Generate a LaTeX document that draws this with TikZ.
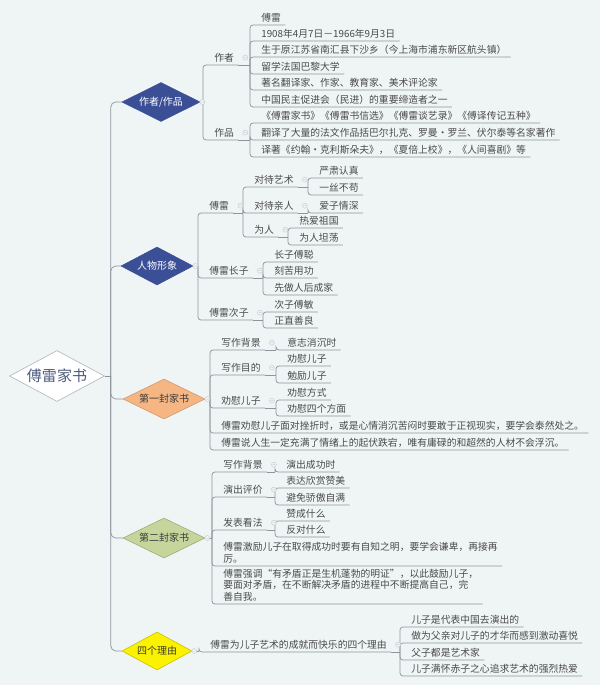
\documentclass[tikz,border=0pt]{standalone}
\usepackage{fontspec}
\setmainfont{Noto Sans CJK SC}
\usetikzlibrary{shapes.geometric}

\definecolor{sfondo}{HTML}{EFF4F5}
\definecolor{linea}{HTML}{8E949B}
\definecolor{testo}{HTML}{4A4A4A}
\definecolor{blu}{HTML}{3B4F96}
\definecolor{arancio}{HTML}{F6B683}
\definecolor{verde}{HTML}{C4D69C}
\definecolor{giallo}{HTML}{FBF200}
\definecolor{titolo}{HTML}{4C5B7E}

\begin{document}
\begin{tikzpicture}[x=1pt, y=-1pt, line width=0.7pt,
    link/.style={draw=linea, rounded corners=3pt},
    leaf/.style={anchor=south west, inner xsep=4pt, inner ysep=2.5pt, text=testo,
                 font=\fontsize{9.8}{11.5}\selectfont, align=left},
    topic/.style={diamond, aspect=2, inner sep=0pt, line width=0.6pt,
                  font=\fontsize{10}{12}\selectfont},
    fold/.style={draw=linea!45, line width=0.5pt, fill=sfondo}]

    \fill[sfondo] (0,0) rectangle (600,685);

    % figli di un nodo: tratto fino alla spina, poi giu' (o su) fino alla riga del figlio
    \def\kids#1#2{%
        \foreach \figlio in {#2}{%
            \draw[link] (#1) -- ([xshift=-7pt]\figlio.south west |- #1);
            \draw[link] ([xshift=-7pt]\figlio.south west |- #1) |- (\figlio.south east);
        }%
    }
    % pallino di chiusura
    \def\fold#1{\draw[fold] (#1) circle (2.5pt) ++(-1.4pt,0) -- ++(2.8pt,0);}

    % -- Radice --
    \node[topic, draw=linea!70, fill=white, text=titolo, minimum width=95pt, minimum height=51pt,
          font=\fontsize{15}{18}\selectfont] (root) at (57,376) {傅雷家书};

    % -- Rami principali --
    \node[topic, draw=blu, fill=blu, text=white, minimum width=78pt, minimum height=39pt] (d1) at (161,102) {作者/作品};
    \node[topic, draw=blu, fill=blu, text=white, minimum width=72pt, minimum height=38pt] (d2) at (157,266) {人物形象};
    \node[topic, draw=arancio!85!black, fill=arancio, text=testo!80!black, minimum width=82pt, minimum height=40pt] (d3) at (164,399) {第一封家书};
    \node[topic, draw=verde!80!black, fill=verde, text=testo!80!black, minimum width=82pt, minimum height=40pt] (d4) at (164,538) {第二封家书};
    \node[topic, draw=giallo!80!black, fill=giallo, text=testo!80!black, minimum width=70pt, minimum height=38pt] (d5) at (157,651) {四个理由};

    \coordinate (jr) at ([xshift=6pt]root.east);
    \draw[link] (root.east) -- (jr);
    \foreach \d in {d1,d2,d3,d4,d5}{
        \draw[link, rounded corners=5pt] (jr) |- (\d.west);
    }

    % -- Parte 1: 作者/作品 --
    \node[leaf] (zuozhe) at (210,65) {作者};
    \node[leaf] (zuopin) at (210,140) {作品};

    \node[leaf] (a1) at (257,25) {傅雷};
    \node[leaf] (a2) at (257,41) {1908年4月7日－1966年9月3日};
    \node[leaf] (a3) at (257,57) {生于原江苏省南汇县下沙乡（今上海市浦东新区航头镇）};
    \node[leaf] (a4) at (257,74) {留学法国巴黎大学};
    \node[leaf] (a5) at (257,90) {著名翻译家、作家、教育家、美术评论家};
    \node[leaf] (a6) at (257,107) {中国民主促进会（民进）的重要缔造者之一};

    \node[leaf] (b1) at (257,123) {《傅雷家书》《傅雷书信选》《傅雷谈艺录》《傅译传记五种》};
    \node[leaf] (b2) at (257,140) {翻译了大量的法文作品括巴尔扎克、罗曼·罗兰、伏尔泰等名家著作};
    \node[leaf] (b3) at (257,157) {译著《约翰·克利斯朵夫》，《夏倍上校》，《人间喜剧》等};

    \kids{d1.east}{zuozhe,zuopin}
    \kids{zuozhe.south east}{a1,a2,a3,a4,a5,a6}
    \kids{zuopin.south east}{b1,b2,b3}

    % -- Parte 2: 人物形象 --
    \node[leaf] (c1) at (205,213) {傅雷};
    \node[leaf] (c2) at (205,278) {傅雷长子};
    \node[leaf] (c3) at (205,320) {傅雷次子};

    \node[leaf] (c11) at (250,187) {对待艺术};
    \node[leaf] (c12) at (250,213) {对待亲人};
    \node[leaf] (c13) at (250,237) {为人};
    \node[leaf] (c111) at (315,178) {严肃认真};
    \node[leaf] (c112) at (315,195) {一丝不苟};
    \node[leaf] (c121) at (315,213) {爱子情深};
    \node[leaf] (c131) at (295,228) {热爱祖国};
    \node[leaf] (c132) at (295,245) {为人坦荡};

    \node[leaf] (c21) at (270,262) {长子傅聪};
    \node[leaf] (c22) at (270,278) {刻苦用功};
    \node[leaf] (c23) at (270,295) {先做人后成家};
    \node[leaf] (c31) at (270,312) {次子傅敏};
    \node[leaf] (c32) at (270,328) {正直善良};

    \kids{d2.east}{c1,c2,c3}
    \kids{c1.south east}{c11,c12,c13}
    \kids{c11.south east}{c111,c112}
    \kids{c12.south east}{c121}
    \kids{c13.south east}{c131,c132}
    \kids{c2.south east}{c21,c22,c23}
    \kids{c3.south east}{c31,c32}

    % -- Parte 3: 第一封家书 --
    \node[leaf] (e1) at (217,350) {写作背景};
    \node[leaf] (e2) at (217,375) {写作目的};
    \node[leaf] (e3) at (217,408) {劝慰儿子};
    \node[leaf] (e4) at (217,433) {傅雷劝慰儿子面对挫折时，或是心情消沉苦闷时要敢于正视现实，要学会泰然处之。};
    \node[leaf] (e5) at (217,450) {傅雷说人生一定充满了情绪上的起伏跌宕，唯有庸碌的和超然的人材不会浮沉。};

    \node[leaf] (e11) at (283,350) {意志消沉时};
    \node[leaf] (e21) at (283,366) {劝慰儿子};
    \node[leaf] (e22) at (283,383) {勉励儿子};
    \node[leaf] (e31) at (283,400) {劝慰方式};
    \node[leaf] (e32) at (283,416) {劝慰四个方面};

    \kids{d3.east}{e1,e2,e3,e4,e5}
    \kids{e1.south east}{e11}
    \kids{e2.south east}{e21,e22}
    \kids{e3.south east}{e31,e32}

    % -- Parte 4: 第二封家书 --
    \node[leaf] (f1) at (219,472) {写作背景};
    \node[leaf] (f2) at (219,497) {演出评价};
    \node[leaf] (f3) at (219,530) {发表看法};
    \node[leaf] (f4) at (219,566) {傅雷激励儿子在取得成功时要有自知之明，要学会谦卑，再接再\\厉。};
    \node[leaf] (f5) at (219,604) {傅雷强调“有矛盾正是生机蓬勃的明证”，以此鼓励儿子，\\要面对矛盾，在不断解决矛盾的进程中不断提高自己，完\\善自我。};

    \node[leaf] (f11) at (282,472) {演出成功时};
    \node[leaf] (f21) at (282,488) {表达欣赏赞美};
    \node[leaf] (f22) at (282,505) {避免骄傲自满};
    \node[leaf] (f31) at (282,521) {赞成什么};
    \node[leaf] (f32) at (282,537) {反对什么};

    \kids{d4.east}{f1,f2,f3,f4,f5}
    \kids{f1.south east}{f11}
    \kids{f2.south east}{f21,f22}
    \kids{f3.south east}{f31,f32}

    % -- Parte 5: 四个理由 --
    \node[leaf] (g1) at (206,652) {傅雷为儿子艺术的成就而快乐的四个理由};
    \node[leaf] (g11) at (407,627) {儿子是代表中国去演出的};
    \node[leaf] (g12) at (407,643) {做为父亲对儿子的才华而感到激动喜悦};
    \node[leaf] (g13) at (407,660) {父子都是艺术家};
    \node[leaf] (g14) at (407,676) {儿子满怀赤子之心追求艺术的强烈热爱};

    \kids{d5.east}{g1}
    \kids{g1.south east}{g11,g12,g13,g14}

    % pallini
    \foreach \n in {zuozhe,zuopin,c1,c11,c12,c13,c2,c3,e1,e2,e3,f1,f2,f3,g1}{
        \fold{[xshift=7pt]\n.east}
    }
    \foreach \d in {d1,d2,d3,d4,d5}{
        \fold{[xshift=2pt]\d.east}
    }
\end{tikzpicture}
\end{document}
